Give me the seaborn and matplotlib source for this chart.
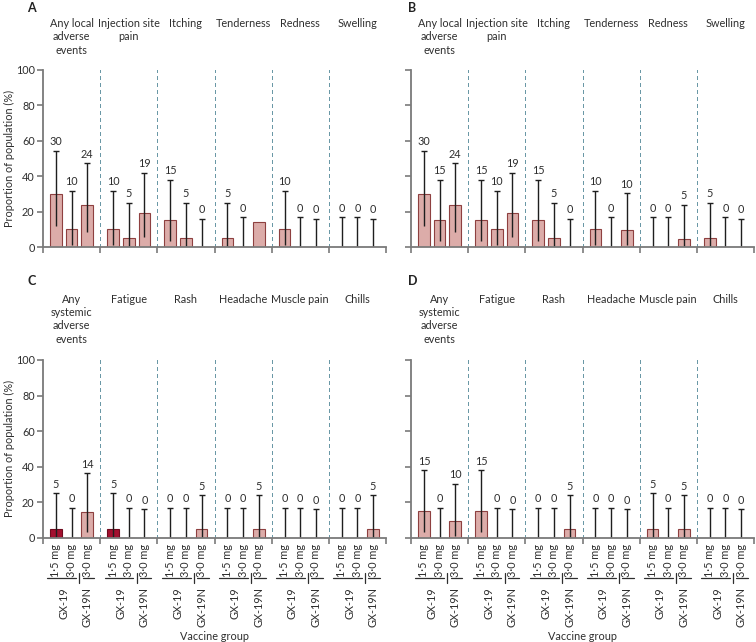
import numpy as np
import pandas as pd
import matplotlib
matplotlib.use("Agg")
import matplotlib.pyplot as plt
import matplotlib.transforms as mtransforms
import seaborn as sns

sns.set_theme(style="white")
plt.rcParams['font.family'] = ['Lato', 'DejaVu Sans']

# ---------------- data ----------------
local_events = ["Any local\nadverse\nevents", "Injection site\npain", "Itching",
                "Tenderness", "Redness", "Swelling"]
systemic_events = ["Any\nsystemic\nadverse\nevents", "Fatigue", "Rash",
                   "Headache", "Muscle pain", "Chills"]
arms = ["GX-19 1·5 mg", "GX-19 3·0 mg", "GX-19N 3·0 mg"]
dose_labels = ["1·5 mg", "3·0 mg", "3·0 mg"]
vaccine_names = ["GX-19", "GX-19N"]

# Panel A
A_values = [[30, 10, 23.8], [10, 5, 19.0], [15, 5, 0], [5, 0, 14.3], [10, 0, 0], [0, 0, 0]]
A_labels = [["30", "10", "24"], ["10", "5", "19"], ["15", "5", "0"], ["5", "0", None],
            ["10", "0", "0"], ["0", "0", "0"]]
A_lo = [[11.9, 1.2, 8.2], [1.2, 0.1, 5.4], [3.2, 0.1, 0], [0.1, 0, None], [1.2, 0, 0], [0, 0, 0]]
A_hi = [[54.3, 31.7, 47.2], [31.7, 24.9, 41.9], [37.9, 24.9, 16.1], [24.9, 16.8, None],
        [31.7, 16.8, 16.1], [16.8, 16.8, 16.1]]

# Panel B
B_values = [[30, 15, 23.8], [15, 10, 19.0], [15, 5, 0], [10, 0, 9.5], [0, 0, 4.8], [5, 0, 0]]
B_labels = [["30", "15", "24"], ["15", "10", "19"], ["15", "5", "0"], ["10", "0", "10"],
            ["0", "0", "5"], ["5", "0", "0"]]
B_lo = [[11.9, 3.2, 8.2], [3.2, 1.2, 5.4], [3.2, 0.1, 0], [1.2, 0, 1.2], [0, 0, 0.1], [0.1, 0, 0]]
B_hi = [[54.3, 37.9, 47.2], [37.9, 31.7, 41.9], [37.9, 24.9, 16.1], [31.7, 16.8, 30.4],
        [16.8, 16.8, 23.8], [24.9, 16.8, 16.1]]

# Panel C
C_values = [[5, 0, 14.3], [5, 0, 0], [0, 0, 4.8], [0, 0, 4.8], [0, 0, 0], [0, 0, 4.8]]
C_labels = [["5", "0", "14"], ["5", "0", "0"], ["0", "0", "5"], ["0", "0", "5"],
            ["0", "0", "0"], ["0", "0", "5"]]
C_lo = [[0.1, 0, 3.0], [0.1, 0, 0], [0, 0, 0.1], [0, 0, 0.1], [0, 0, 0], [0, 0, 0.1]]
C_hi = [[24.9, 16.8, 36.3], [24.9, 16.8, 16.1], [16.8, 16.8, 23.8], [16.8, 16.8, 23.8],
        [16.8, 16.8, 16.1], [16.8, 16.8, 23.8]]

# Panel D
D_values = [[15, 0, 9.5], [15, 0, 0], [0, 0, 4.8], [0, 0, 0], [5, 0, 4.8], [0, 0, 0]]
D_labels = [["15", "0", "10"], ["15", "0", "0"], ["0", "0", "5"], ["0", "0", "0"],
            ["5", "0", "5"], ["0", "0", "0"]]
D_lo = [[3.2, 0, 1.2], [3.2, 0, 0], [0, 0, 0.1], [0, 0, 0], [0.1, 0, 0.1], [0, 0, 0]]
D_hi = [[37.9, 16.8, 30.4], [37.9, 16.8, 16.1], [16.8, 16.8, 23.8], [16.8, 16.8, 16.1],
        [24.9, 16.8, 23.8], [16.8, 16.8, 16.1]]

# ---------------- style ----------------
PINK = "#E5A5A0"
EDGE = "#8E4040"
DARK = "#A3102F"
DARK_EDGE = "#6E0A1E"
AXC = "#7a7a7a"
TXT = "#2e2e2e"
DASH = "#6A98A6"
FS = 7.8

W, H = 756, 642
fig = plt.figure(figsize=(W / 100, H / 100), dpi=100)


def add_ax(l, t, r, b):
    return fig.add_axes([l / W, 1 - b / H, (r - l) / W, (b - t) / H])


def draw_panel(ax, events, values, labels, lo, hi, show_ylab, show_xlab,
               title_top_px, bottom_px, height_px, highlight=()):
    df = pd.DataFrame({
        "event": [e for e in events for _ in arms],
        "arm": arms * len(events),
        "value": [v for row in values for v in row],
    })
    sns.barplot(data=df, x="event", y="value", hue="arm", order=events, hue_order=arms,
                palette=[PINK] * 3, width=0.82, gap=0.25, errorbar=None,
                edgecolor=EDGE, linewidth=0.8, legend=False, ax=ax, zorder=2)
    bars = sorted(ax.patches, key=lambda p: p.get_x())
    xs = [p.get_x() + p.get_width() / 2 for p in bars]
    for g, k in highlight:
        bars[g * 3 + k].set_facecolor(DARK)
        bars[g * 3 + k].set_edgecolor(DARK_EDGE)

    flat_lab = [v for row in labels for v in row]
    flat_lo = [v for row in lo for v in row]
    flat_hi = [v for row in hi for v in row]
    for x, lab, l, h in zip(xs, flat_lab, flat_lo, flat_hi):
        if h is not None:
            ax.vlines(x, l, h, color="#1e1e1e", lw=1.0, zorder=3)
            ax.plot([x], [h], marker="_", ms=4.5, mew=1.0, color="#1e1e1e", zorder=3)
        if lab is not None:
            ax.annotate(lab, (x, h), xytext=(0, 2.5), textcoords="offset points",
                        ha="center", va="bottom", fontsize=FS, color=TXT)

    ax.set_xlim(-0.5, 5.5)
    ax.set_ylim(0, 100)
    ax.set_xlabel("")
    ax.set_ylabel("")
    for b in np.arange(0.5, 6, 1):
        ax.axvline(b, color=DASH, lw=1.0, ls=(0, (2.2, 2.2)), zorder=1,
                   antialiased=False)

    sns.despine(ax=ax)
    for sp in ("left", "bottom"):
        ax.spines[sp].set_color(AXC)
        ax.spines[sp].set_linewidth(1.3)
        ax.spines[sp].set_zorder(4)

    ax.set_yticks(range(0, 101, 20))
    if show_ylab:
        ax.set_yticklabels([str(v) for v in range(0, 101, 20)])
    else:
        ax.set_yticklabels([])
    ax.tick_params(axis="y", left=True, direction="out", length=4.5, width=1.2,
                   color=AXC, labelsize=FS, labelcolor=TXT, pad=1.5)

    ax.set_xticks(np.arange(-0.5, 6, 1), minor=True)
    if show_xlab:
        ax.set_xticks(xs, dose_labels * len(events), rotation=90)
    else:
        ax.set_xticks(xs, [""] * len(xs))
    ax.tick_params(axis="x", which="major", bottom=True, length=0, labelsize=FS,
                   labelcolor=TXT, pad=4.5)
    ax.tick_params(axis="x", which="minor", bottom=True, direction="out", length=4.5,
                   width=1.2, color=AXC)

    trans = mtransforms.blended_transform_factory(ax.transData, ax.transAxes)
    ty = (bottom_px - title_top_px) / height_px
    for i, ev in enumerate(events):
        ax.text(i, ty, ev, ha="center", va="top", fontsize=FS, color=TXT,
                linespacing=1.25, transform=trans)

    if show_xlab:
        yb = -(578 - bottom_px) / height_px
        dy = 5 / height_px
        yt = -(587 - bottom_px) / height_px
        for g in range(len(events)):
            c1, c2, c3 = xs[3 * g:3 * g + 3]
            s = c2 - c1
            kw = dict(transform=trans, clip_on=False, color=TXT, lw=0.9)
            ax.plot([c1 - 0.55 * s, c2 + 0.3 * s], [yb, yb], **kw)
            ax.plot([c2 + 0.5 * s] * 2, [yb - dy, yb + dy], **kw)
            ax.plot([c2 + 0.7 * s, c3 + 0.45 * s], [yb, yb], **kw)
            ax.text((c1 + c2) / 2, yt, vaccine_names[0], rotation=90, ha="center",
                    va="top", fontsize=FS, color=TXT, transform=trans)
            ax.text(c3, yt, vaccine_names[1], rotation=90, ha="center",
                    va="top", fontsize=FS, color=TXT, transform=trans)
    return ax


axA = add_ax(43, 70, 386, 247)
axB = add_ax(411, 70, 754, 247)
axC = add_ax(43, 360, 386, 537.7)
axD = add_ax(411, 360, 754, 537.7)

draw_panel(axA, local_events, A_values, A_labels, A_lo, A_hi, True, False, 18, 247, 177)
draw_panel(axB, local_events, B_values, B_labels, B_lo, B_hi, False, False, 18, 247, 177)
draw_panel(axC, systemic_events, C_values, C_labels, C_lo, C_hi, True, True, 294, 537.7, 177.7,
           highlight=[(0, 0), (1, 0)])
draw_panel(axD, systemic_events, D_values, D_labels, D_lo, D_hi, False, True, 294, 537.7, 177.7)

for ax in (axA, axC):
    ax.set_ylabel("Proportion of population (%)", fontsize=FS, color=TXT)
    ax.yaxis.set_label_coords(-(43 - 15) / 343, 0.5)

for ax in (axC, axD):
    ax.text(0.5, -(636 - 537.7) / 177.7, "Vaccine group", ha="center", va="center",
            fontsize=FS, color=TXT, transform=ax.transAxes)

for letter, (px, py) in zip("ABCD", [(27, 2), (408, 2), (27, 275), (408, 275)]):
    fig.text(px / W, 1 - py / H, letter, ha="left", va="top", fontsize=9,
             fontweight="bold", color="#222222")

fig.savefig("out.png", dpi=100)
